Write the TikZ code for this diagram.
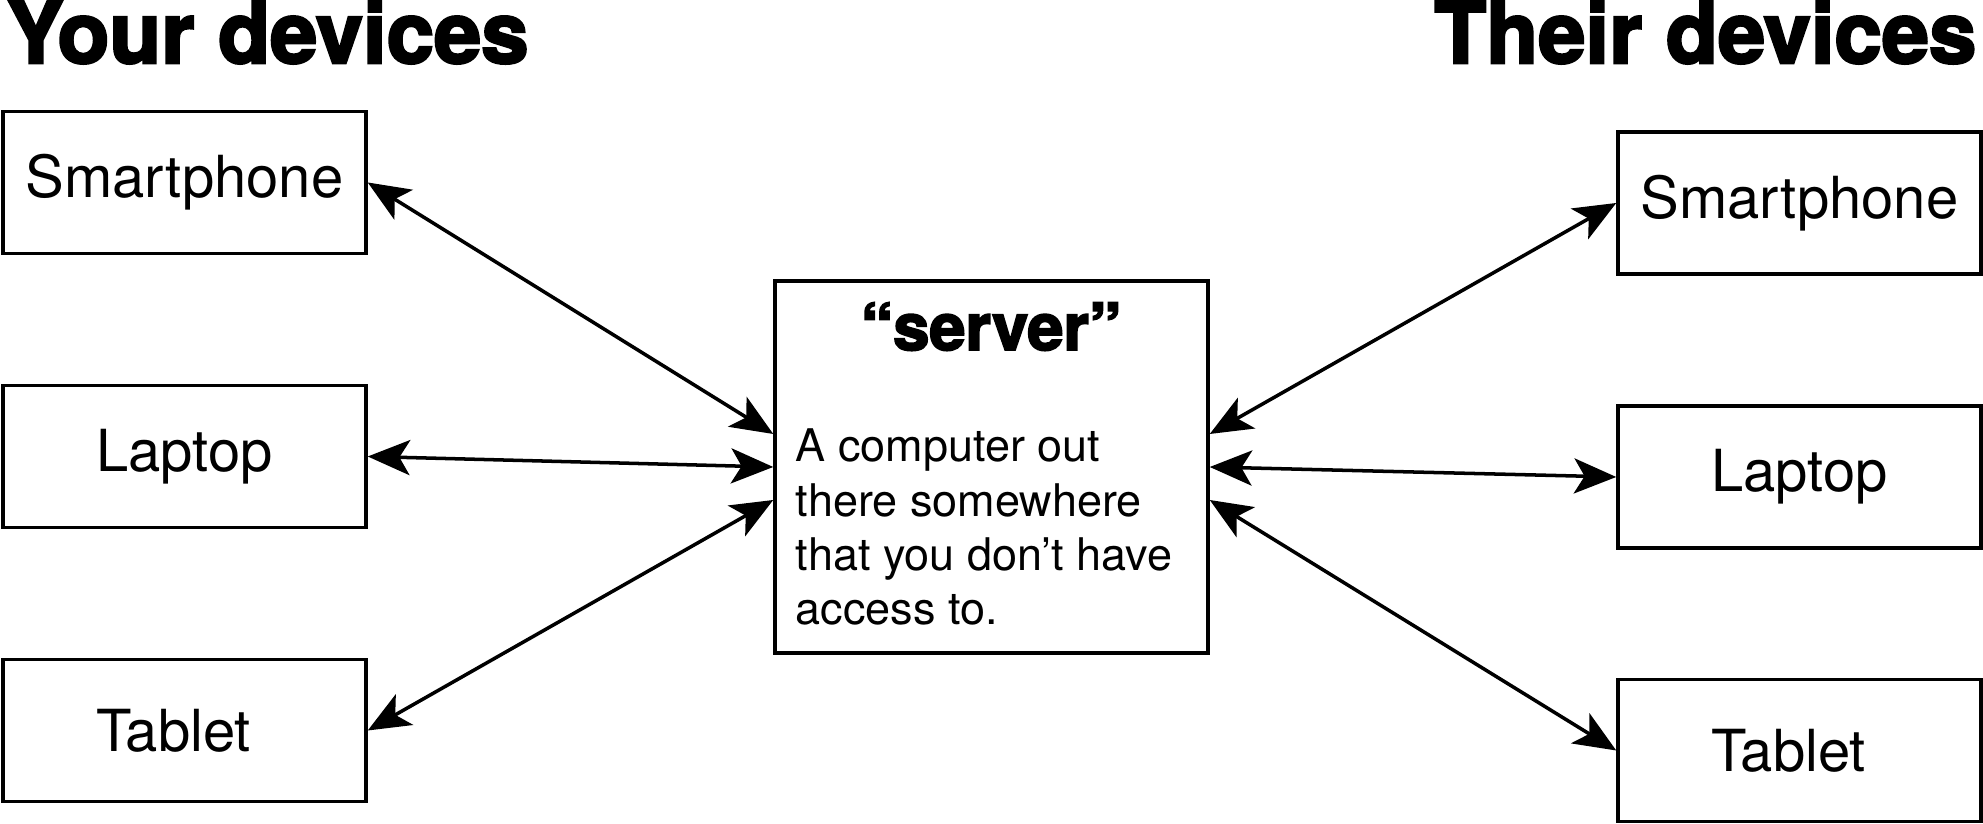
\documentclass[tikz,border=0pt]{standalone}
\usepackage{fontspec}
\setmainfont{TeX Gyre Heros}
\newfontfamily\heavyfont{texgyreheros-bold.otf}[FakeBold=3]
\usetikzlibrary{arrows.meta}
\usetikzlibrary{positioning}

\begin{document}
\begin{tikzpicture}[
  device/.style={draw, line width=1pt, minimum width=3.63cm, minimum height=1.42cm, inner sep=0pt, font=\fontsize{16.5}{19}\selectfont},
  heading/.style={inner sep=0pt, font=\heavyfont\fontsize{24.2}{27}\selectfont},
  link/.style={line width=1pt, {Stealth[length=12pt,width=10pt,inset=3pt]}-{Stealth[length=12pt,width=10pt,inset=3pt]}}
]
\useasboundingbox (0,0) rectangle (19.83,-8.24);

% headings
\node[heading, anchor=base west] (yourhead) at (0.06,-0.63) {Your devices};
\node[heading, anchor=base east] (theirhead) at (19.77,-0.63) {Their devices};

% your devices
\node[device] (ysmart) at (1.845,-1.825) {Smartphone};
\node[device] (ylaptop) at (1.845,-4.565) {Laptop};
\node[device] (ytablet) at (1.845,-7.305) {Tablet\hspace*{0.22cm}};

% their devices
\node[device] (tsmart) at (17.995,-2.03) {Smartphone};
\node[device] (tlaptop) at (17.995,-4.77) {Laptop};
\node[device] (ttablet) at (17.995,-7.505) {Tablet\hspace*{0.22cm}};

% server
\node[draw, line width=1pt, minimum width=4.33cm, minimum height=3.72cm, inner sep=0pt] (server) at (9.915,-4.67) {};
\node[inner sep=0pt, anchor=base, font=\heavyfont\fontsize{18.5}{20}\selectfont] (srvtitle) at (9.91,-3.50) {“server”};
\node[inner sep=0pt, anchor=base west, align=left, font=\fontsize{12.8}{15.5}\selectfont] (srvtext) at (7.95,-6.25)
  {A computer out\\there somewhere\\that you don’t have\\access to.};

% links
\draw[link] (ysmart.east) -- ([yshift=0.33cm]server.west);
\draw[link] (ylaptop.east) -- (server.west);
\draw[link] (ytablet.east) -- ([yshift=-0.33cm]server.west);
\draw[link] (tsmart.west) -- ([yshift=0.33cm]server.east);
\draw[link] (tlaptop.west) -- (server.east);
\draw[link] (ttablet.west) -- ([yshift=-0.33cm]server.east);
\end{tikzpicture}
\end{document}
